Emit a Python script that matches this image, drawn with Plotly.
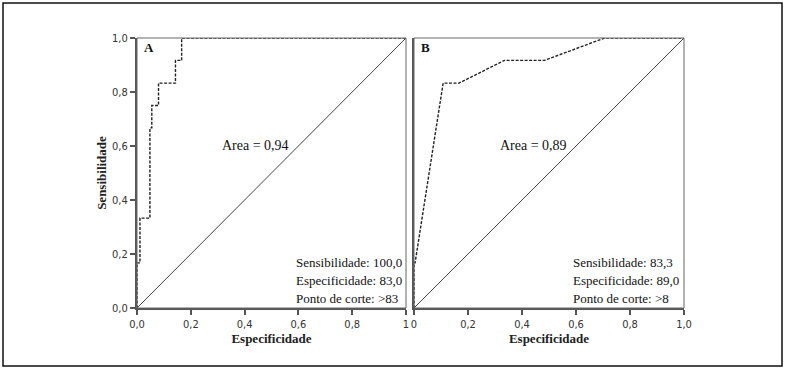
import plotly.graph_objects as go

W, H = 785, 370

# Panel A ROC data (1 - specificity on x as drawn, sensitivity on y)
a_x = [0, 0, 0.011, 0.011, 0.048, 0.048, 0.055, 0.055, 0.080, 0.080, 0.143, 0.143, 0.166, 0.166, 1.0]
a_y = [0, 0.167, 0.167, 0.333, 0.333, 0.667, 0.667, 0.750, 0.750, 0.833, 0.833, 0.917, 0.917, 1.0, 1.0]

# Panel B ROC data
b_x = [0, 0, 0.004, 0.055, 0.108, 0.167, 0.335, 0.483, 0.706, 1.0]
b_y = [0, 0.167, 0.167, 0.500, 0.833, 0.833, 0.917, 0.917, 1.0, 1.0]

ref_line = [0, 1]

tick_vals = [0, 0.2, 0.4, 0.6, 0.8, 1.0]
tick_text_a = ["0,0", "0,2", "0,4", "0,6", "0,8", "1"]
tick_text_b = ["0", "0,2", "0,4", "0,6", "0,8", "1,0"]
y_tick_text = ["0,0", "0,2", "0,4", "0,6", "0,8", "1,0"]

area_a = "Area = 0,94"
area_b = "Area = 0,89"
stats_a = ["Sensibilidade: 100,0", "Especificidade: 83,0", "Ponto de corte: >83"]
stats_b = ["Sensibilidade: 83,3", "Especificidade: 89,0", "Ponto de corte: >8"]

SERIF = "Liberation Serif, Times New Roman, serif"
TICKF = "Liberation Sans Narrow, DejaVu Sans Condensed, Arial Narrow, sans-serif"

fig = go.Figure()

curve_style = dict(color="#222", width=1.4, dash="3px,1.5px")
diag_style = dict(color="#444", width=1)

fig.add_trace(go.Scatter(x=ref_line, y=ref_line, mode="lines", line=diag_style,
                         xaxis="x", yaxis="y", cliponaxis=False, hoverinfo="skip"))
fig.add_trace(go.Scatter(x=a_x, y=a_y, mode="lines", line=curve_style,
                         xaxis="x", yaxis="y", cliponaxis=False))
fig.add_trace(go.Scatter(x=ref_line, y=ref_line, mode="lines", line=diag_style,
                         xaxis="x2", yaxis="y2", cliponaxis=False, hoverinfo="skip"))
fig.add_trace(go.Scatter(x=b_x, y=b_y, mode="lines", line=curve_style,
                         xaxis="x2", yaxis="y2", cliponaxis=False))

y_dom = [1 - 308 / H, 1 - 38 / H]
axis_common = dict(range=[0, 1], showgrid=False, zeroline=False, showline=True,
                   linecolor="#555", linewidth=2, fixedrange=True, automargin=False,
                   tickfont=dict(family=TICKF, size=11, color="#333"))

fig.update_layout(
    width=W, height=H,
    margin=dict(l=0, r=0, t=0, b=0, pad=0, autoexpand=False),
    paper_bgcolor="white", plot_bgcolor="white",
    showlegend=False,
    xaxis=dict(axis_common, domain=[137 / W, 406 / W], anchor="y",
               tickvals=tick_vals, ticktext=tick_text_a, ticks="outside",
               ticklen=5, tickcolor="#555", tickwidth=1.5,
               title=dict(text="<b>Especificidade</b>", standoff=3,
                          font=dict(family=SERIF, size=13, color="#222"))),
    yaxis=dict(axis_common, domain=y_dom, anchor="x",
               tickvals=tick_vals, ticktext=y_tick_text, ticks="outside",
               ticklen=5, tickcolor="#555", tickwidth=1.5,
               title=dict(text="<b>Sensibilidade</b>", standoff=3,
                          font=dict(family=SERIF, size=13, color="#222"))),
    xaxis2=dict(axis_common, domain=[414 / W, 684 / W], anchor="y2",
                tickvals=tick_vals, ticktext=tick_text_b, ticks="outside",
                ticklen=5, tickcolor="#555", tickwidth=1.5,
                title=dict(text="<b>Especificidade</b>", standoff=3,
                           font=dict(family=SERIF, size=13, color="#222"))),
    yaxis2=dict(axis_common, domain=y_dom, anchor="x2",
                tickvals=tick_vals, showticklabels=False, ticks=""),
)

# thin frames (top/right) for each panel
for xr, yr in (("x domain", "y domain"), ("x2 domain", "y2 domain")):
    fig.add_shape(type="rect", xref=xr, yref=yr, x0=0, x1=1, y0=0, y1=1,
                  line=dict(color="#666", width=1), layer="above")

# outer border of the figure
fig.add_shape(type="rect", xref="paper", yref="paper",
              x0=3 / W, x1=782 / W, y0=1 - 366 / H, y1=1 - 3 / H,
              line=dict(color="#111", width=1.5))

txt = dict(family=SERIF, size=13, color="#111")
txt_area = dict(family=SERIF, size=14, color="#111")
# panel letters
fig.add_annotation(x=0.02, y=1.0, xref="x domain", yref="y domain", text="<b>A</b>",
                   showarrow=False, xanchor="left", yanchor="top", font=txt)
fig.add_annotation(x=0.02, y=1.0, xref="x2 domain", yref="y2 domain", text="<b>B</b>",
                   showarrow=False, xanchor="left", yanchor="top", font=txt)
# area labels
fig.add_annotation(x=(255 - 137) / 269, y=(308 - 145) / 270, xref="x domain", yref="y domain",
                   text=area_a, showarrow=False, font=txt_area)
fig.add_annotation(x=(533 - 414) / 270, y=(308 - 145) / 270, xref="x2 domain", yref="y2 domain",
                   text=area_b, showarrow=False, font=txt_area)
# stats blocks
for i, (sa, sb) in enumerate(zip(stats_a, stats_b)):
    ypix = 262 + 18 * i
    fig.add_annotation(x=294 / W, y=1 - ypix / H, xref="paper", yref="paper", text=sa,
                       showarrow=False, xanchor="left", yanchor="middle", font=txt)
    fig.add_annotation(x=571 / W, y=1 - ypix / H, xref="paper", yref="paper", text=sb,
                       showarrow=False, xanchor="left", yanchor="middle", font=txt)

fig.write_html("out.html", config={"displayModeBar": False},
               post_script="document.body.style.margin='0';")
